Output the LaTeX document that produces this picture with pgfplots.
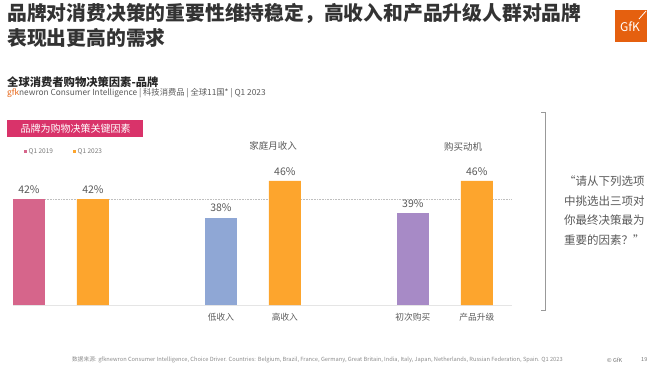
\documentclass[border=0pt]{standalone}
\usepackage{pgfplots}
\pgfplotsset{compat=1.18}
\usepackage{fontspec}
\setmainfont{Noto Sans CJK SC}
\definecolor{pinkbar}{HTML}{D6658B}
\definecolor{orangebar}{HTML}{FDA52D}
\definecolor{bluebar}{HTML}{8FA7D5}
\definecolor{purplebar}{HTML}{A78AC6}
\definecolor{boxpink}{HTML}{D9336A}
\definecolor{txtgray}{HTML}{595959}
\definecolor{gfkorange}{HTML}{E5600F}
\begin{document}
\begin{tikzpicture}[x=1pt,y=-1pt]
\path[use as bounding box] (0,0) rectangle (660,372);
% title
\node[anchor=west, font=\bfseries\fontsize{19.8}{24}\selectfont, text=black!80, inner sep=0] at (7,13) {品牌对消费决策的重要性维持稳定，高收入和产品升级人群对品牌};
\node[anchor=west, font=\bfseries\fontsize{19.8}{24}\selectfont, text=black!80, inner sep=0] at (7,37.5) {表现出更高的需求};
% logo
\fill[gfkorange] (615,10) rectangle (647,42);
\node[text=white, font=\fontsize{12}{14}\selectfont, inner sep=0] at (630,27) {GfK};
\draw[white, line width=0.8pt] (639,19) -- (646,11);
% subtitle
\node[anchor=west, font=\bfseries\fontsize{11.3}{13}\selectfont, text=black!85, inner sep=0] at (7,82) {全球消费者购物决策因素-品牌};
\node[anchor=west, font=\fontsize{8.3}{9}\selectfont, text=txtgray, inner sep=0] at (7,93) {{\color{gfkorange}gfk}newron Consumer Intelligence | 科技消费品 | 全球11国* | Q1 2023};
% pink box
\fill[boxpink] (7,120) rectangle (143,137);
\node[text=white, font=\fontsize{10}{12}\selectfont, inner sep=0] at (75.5,128.5) {品牌为购物决策关键因素};
% legend
\fill[pinkbar] (24,150) rectangle (27,153);
\node[anchor=west, font=\fontsize{6.5}{8}\selectfont, text=txtgray!80, inner sep=0] at (28.5,151.5) {Q1 2019};
\fill[orangebar] (73,150) rectangle (76,153);
\node[anchor=west, font=\fontsize{6.5}{8}\selectfont, text=txtgray!80, inner sep=0] at (77.5,151.5) {Q1 2023};
% group labels
\node[font=\fontsize{9.5}{11}\selectfont, text=txtgray, inner sep=0] at (273,146) {家庭月收入};
\node[font=\fontsize{9.5}{11}\selectfont, text=txtgray, inner sep=0] at (463,147) {购买动机};
% chart
\begin{axis}[at={(13pt,-305pt)}, anchor=south west, scale only axis,
  width=499pt, height=151.8pt,
  xmin=-0.25, xmax=7.55, ymin=19, ymax=52,
  axis x line*=bottom, axis y line=none,
  x axis line style={draw=black!10},
  xtick={3,4,6,7},
  xticklabels={低收入,高收入,初次购买,产品升级},
  major tick length=0pt,
  xticklabel style={font=\fontsize{8.7}{10}\selectfont, text=txtgray, yshift=-5pt},
  ytick=\empty,
  /pgf/number format/assume math mode=true,
  every node near coord/.append style={font=\fontsize{10.5}{12}\selectfont, text=txtgray, yshift=2pt},
]
\addplot[black!25, densely dotted, line width=0.6pt, forget plot] coordinates {(-0.25,42) (7.55,42)};
\addplot[ybar, bar width=32pt, bar shift=0pt, fill=pinkbar, draw=none, nodes near coords={\pgfmathprintnumber{\pgfplotspointmeta}\%}] coordinates {(0,42)};
\addplot[ybar, bar width=32pt, bar shift=0pt, fill=orangebar, draw=none, nodes near coords={\pgfmathprintnumber{\pgfplotspointmeta}\%}] coordinates {(1,42) (4,46) (7,46)};
\addplot[ybar, bar width=32pt, bar shift=0pt, fill=bluebar, draw=none, nodes near coords={\pgfmathprintnumber{\pgfplotspointmeta}\%}] coordinates {(3,38)};
\addplot[ybar, bar width=32pt, bar shift=0pt, fill=purplebar, draw=none, nodes near coords={\pgfmathprintnumber{\pgfplotspointmeta}\%}] coordinates {(6,39)};
\end{axis}
% quote
\draw[black!40, line width=0.7pt] (541,112) -- (545,112) -- (545,310) -- (541,310);
\node[anchor=north west, align=left, font=\fontsize{11.5}{19.5}\selectfont, text=txtgray, inner sep=0] at (564,176) {“请从下列选项\\中挑选出三项对\\你最终决策最为\\重要的因素？”};
% footer
\node[anchor=west, font=\fontsize{5.7}{6}\selectfont, text=black!45, inner sep=0] at (72,360) {数据来源: gfknewron Consumer Intelligence, Choice Driver. Countries: Belgium, Brazil, France, Germany, Great Britain, India, Italy, Japan, Netherlands, Russian Federation, Spain. Q1 2023};
\node[anchor=west, font=\fontsize{5.5}{6}\selectfont, text=black!55, inner sep=0] at (607,360) {© GfK};
\node[anchor=west, font=\fontsize{5.5}{6}\selectfont, text=black!55, inner sep=0] at (641,360) {19};
\end{tikzpicture}
\end{document}
